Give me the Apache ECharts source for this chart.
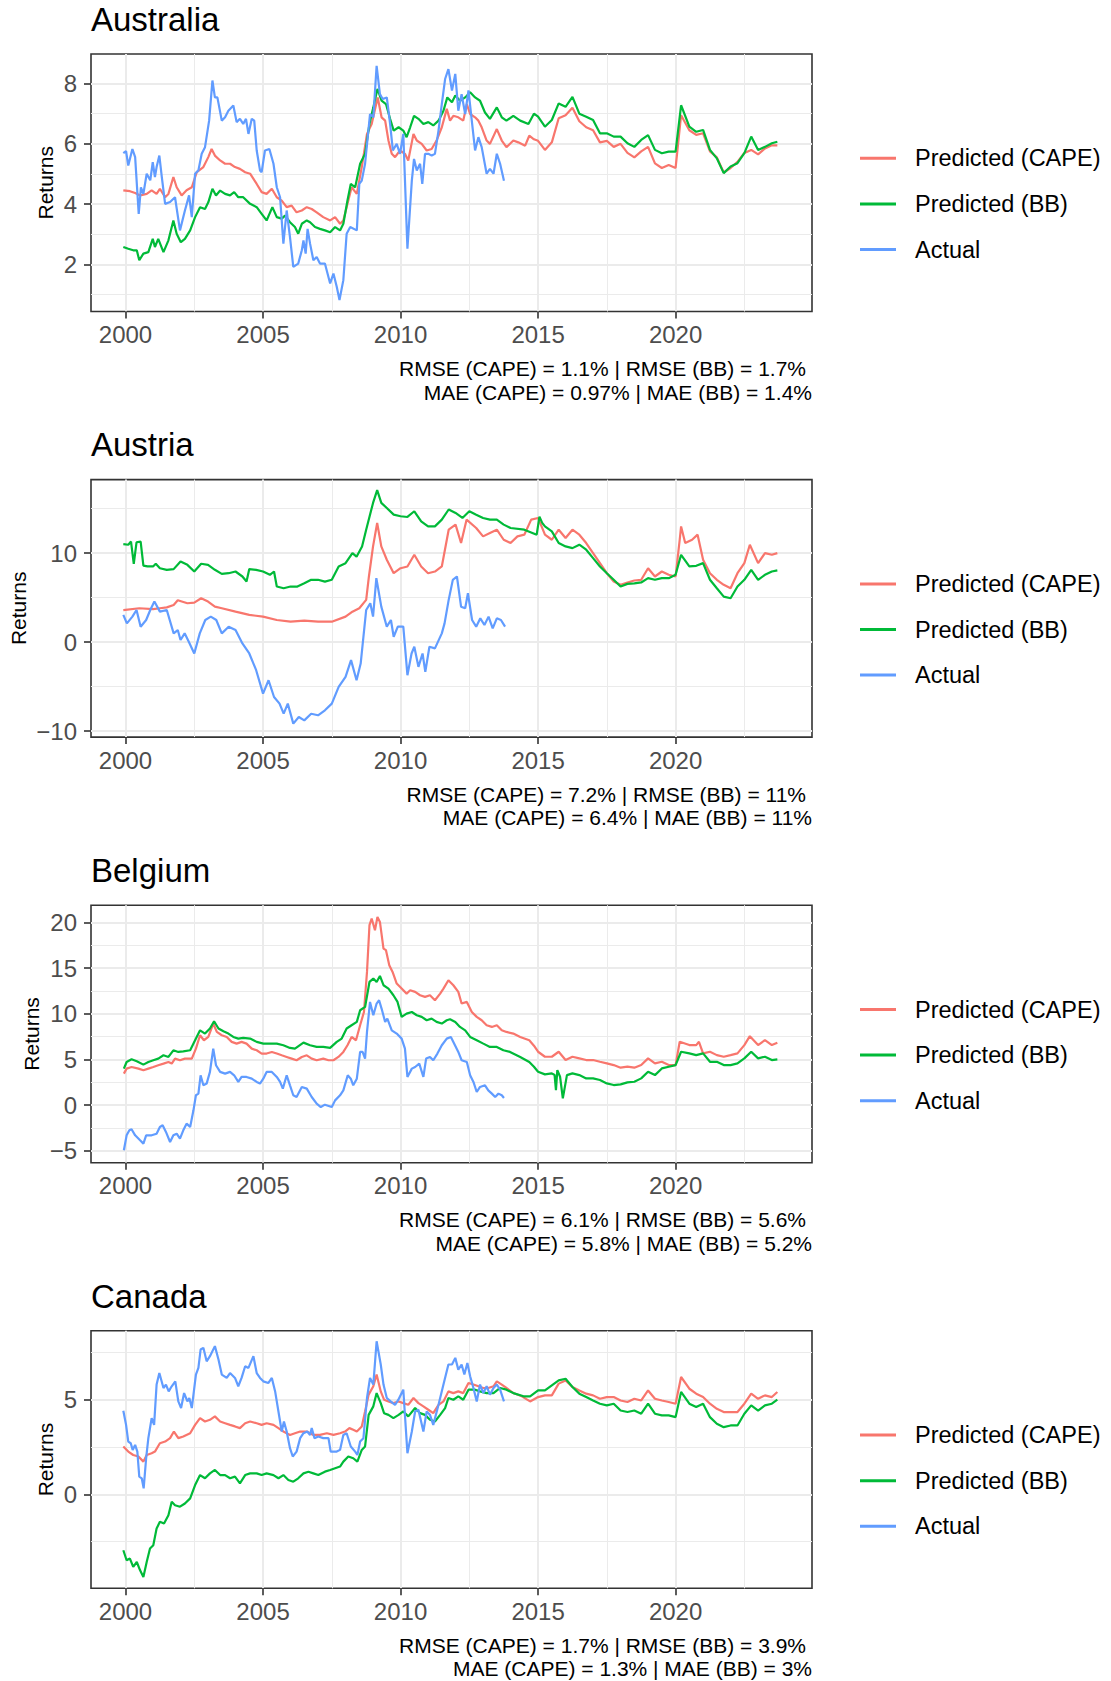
<!DOCTYPE html>
<html><head><meta charset="utf-8">
<script src="https://cdn.jsdelivr.net/npm/echarts@6/dist/echarts.min.js"></script>
<style>html,body{margin:0;padding:0;background:#fff}#c{width:1111px;height:1681px}</style>
</head><body><div id="c"></div>
<script>
// ---------- tick labels / categories ----------
const xTickYears = [2000, 2005, 2010, 2015, 2020];
const xMinorYears = [2002.5, 2007.5, 2012.5, 2017.5, 2022.5];
const seriesNames = ['Predicted (CAPE)', 'Predicted (BB)', 'Actual'];
const countryNames = ['Australia', 'Austria', 'Belgium', 'Canada'];
const ausYTicks = [2, 4, 6, 8], ausYMinor = [1, 3, 5, 7];
const autYTicks = [-10, 0, 10], autYMinor = [-5, 5, 15];
const belYTicks = [-5, 0, 5, 10, 15, 20], belYMinor = [-2.5, 2.5, 7.5, 12.5, 17.5];
const canYTicks = [0, 5], canYMinor = [-2.5, 2.5, 7.5];
const captionRmse = ['RMSE (CAPE) = 1.1% | RMSE (BB) = 1.7%', 'RMSE (CAPE) = 7.2% | RMSE (BB) = 11%', 'RMSE (CAPE) = 6.1% | RMSE (BB) = 5.6%', 'RMSE (CAPE) = 1.7% | RMSE (BB) = 3.9%'];
const captionMae = ['MAE (CAPE) = 0.97% | MAE (BB) = 1.4%', 'MAE (CAPE) = 6.4% | MAE (BB) = 11%', 'MAE (CAPE) = 5.8% | MAE (BB) = 5.2%', 'MAE (CAPE) = 1.3% | MAE (BB) = 3%'];

// ---------- Australia ----------
const ausCape = [[1999.92,4.46],[2000.16,4.43],[2000.35,4.37],[2000.53,4.29],[2000.77,4.34],[2000.95,4.46],[2001.13,4.34],[2001.25,4.51],[2001.44,4.23],[2001.56,4.34],[2001.74,4.9],[2001.86,4.56],[2002.04,4.29],[2002.22,4.46],[2002.41,4.56],[2002.59,5.06],[2002.83,5.23],[2003.01,5.56],[2003.13,5.83],[2003.25,5.61],[2003.44,5.45],[2003.62,5.34],[2003.8,5.34],[2003.98,5.23],[2004.16,5.17],[2004.35,5.06],[2004.53,5.01],[2004.77,4.67],[2004.95,4.4],[2005.13,4.34],[2005.32,4.51],[2005.5,4.23],[2005.68,4.12],[2005.86,3.9],[2006.04,3.95],[2006.22,3.73],[2006.41,3.79],[2006.59,3.9],[2006.77,3.84],[2006.95,3.73],[2007.19,3.57],[2007.44,3.46],[2007.62,3.57],[2007.8,3.35],[2007.92,3.46],[2008.04,3.9],[2008.22,4.56],[2008.41,4.34],[2008.59,5.23],[2008.78,6.33],[2008.95,6.66],[2009.17,7.54],[2009.31,6.88],[2009.44,6.77],[2009.56,6.11],[2009.68,5.67],[2009.8,5.56],[2009.98,5.78],[2010.16,5.67],[2010.28,5.45],[2010.47,6.33],[2010.59,6.11],[2010.77,6.0],[2010.95,5.78],[2011.13,5.83],[2011.31,6.11],[2011.5,6.55],[2011.68,7.16],[2011.8,6.77],[2011.92,6.93],[2012.1,6.88],[2012.28,6.77],[2012.41,7.32],[2012.53,6.99],[2012.71,6.88],[2012.83,6.77],[2012.95,6.55],[2013.13,6.11],[2013.25,6.0],[2013.5,6.49],[2013.68,6.11],[2013.85,5.89],[2014.1,6.11],[2014.28,6.05],[2014.53,5.94],[2014.68,6.27],[2014.85,6.15],[2015,6.1],[2015.25,5.8],[2015.5,6.05],[2015.75,6.85],[2016,6.95],[2016.25,7.2],[2016.5,6.75],[2016.75,6.55],[2017,6.45],[2017.25,6.05],[2017.5,6.1],[2017.75,5.9],[2018,6.0],[2018.25,5.7],[2018.5,5.55],[2018.75,5.75],[2019,5.9],[2019.25,5.35],[2019.5,5.2],[2019.75,5.3],[2020,5.2],[2020.2,6.95],[2020.5,6.45],[2020.75,6.3],[2021,6.35],[2021.25,5.75],[2021.5,5.55],[2021.75,5.05],[2022,5.2],[2022.25,5.4],[2022.5,5.7],[2022.75,5.8],[2023,5.65],[2023.25,5.85],[2023.5,5.95],[2023.7,5.95]];
const ausBB = [[1999.92,2.58],[2000.1,2.52],[2000.28,2.47],[2000.41,2.47],[2000.5,2.14],[2000.65,2.36],[2000.83,2.41],[2000.99,2.85],[2001.07,2.58],[2001.19,2.85],[2001.38,2.41],[2001.56,2.8],[2001.74,3.46],[2001.86,3.02],[2002.01,2.74],[2002.16,2.85],[2002.35,3.13],[2002.53,3.57],[2002.71,3.9],[2002.89,3.84],[2003.01,4.06],[2003.16,4.51],[2003.29,4.29],[2003.44,4.45],[2003.62,4.34],[2003.8,4.29],[2003.95,4.4],[2004.1,4.23],[2004.28,4.23],[2004.53,4.01],[2004.77,3.9],[2004.95,3.68],[2005.13,3.46],[2005.34,3.9],[2005.5,3.57],[2005.68,3.52],[2005.8,3.62],[2005.98,3.4],[2006.16,3.24],[2006.28,3.02],[2006.41,3.35],[2006.59,3.46],[2006.71,3.4],[2006.89,3.24],[2007.07,3.18],[2007.25,3.13],[2007.44,3.07],[2007.62,3.24],[2007.8,3.13],[2007.92,3.35],[2008.07,4.12],[2008.19,4.67],[2008.35,4.56],[2008.53,5.34],[2008.71,5.67],[2008.87,6.66],[2009.01,7.21],[2009.16,7.82],[2009.31,7.43],[2009.47,7.32],[2009.62,6.83],[2009.75,6.44],[2009.93,6.55],[2010.1,6.44],[2010.22,6.22],[2010.35,6.55],[2010.49,6.93],[2010.65,6.83],[2010.83,6.66],[2011.01,6.72],[2011.19,6.61],[2011.38,6.77],[2011.56,7.1],[2011.7,7.54],[2011.87,7.38],[2011.99,7.6],[2012.16,7.43],[2012.35,7.54],[2012.53,7.71],[2012.71,7.54],[2012.89,7.43],[2013.07,7.04],[2013.25,6.83],[2013.5,7.21],[2013.68,6.88],[2013.85,6.77],[2014.1,6.93],[2014.35,6.77],[2014.65,6.66],[2014.85,7.0],[2015,6.9],[2015.25,6.57],[2015.5,6.79],[2015.75,7.34],[2016,7.23],[2016.25,7.56],[2016.5,7.0],[2016.75,6.9],[2017,6.79],[2017.25,6.35],[2017.5,6.35],[2017.75,6.24],[2018,6.24],[2018.25,6.02],[2018.5,5.9],[2018.75,6.13],[2019,6.29],[2019.25,5.8],[2019.5,5.69],[2019.75,5.74],[2020,5.74],[2020.2,7.28],[2020.5,6.57],[2020.75,6.4],[2021,6.46],[2021.25,5.8],[2021.5,5.52],[2021.75,5.03],[2022,5.25],[2022.25,5.36],[2022.5,5.69],[2022.75,6.24],[2023,5.8],[2023.25,5.9],[2023.5,6.02],[2023.7,6.07]];
const ausActual = [[1999.92,5.69],[2000.02,5.76],[2000.1,5.28],[2000.25,5.83],[2000.35,5.56],[2000.48,3.68],[2000.56,4.56],[2000.65,4.34],[2000.77,5.01],[2000.9,4.79],[2000.99,5.39],[2001.07,4.9],[2001.13,5.23],[2001.23,5.61],[2001.32,4.9],[2001.44,4.01],[2001.62,4.07],[2001.8,4.23],[2001.98,3.13],[2002.16,3.79],[2002.31,4.29],[2002.41,3.57],[2002.53,5.01],[2002.65,5.12],[2002.77,5.67],[2002.89,5.89],[2003.04,6.77],[2003.16,8.1],[2003.25,7.54],[2003.34,7.54],[2003.5,6.77],[2003.62,6.88],[2003.74,7.1],[2003.92,7.27],[2004.04,6.72],[2004.16,6.83],[2004.28,6.66],[2004.38,6.83],[2004.47,6.33],[2004.59,6.83],[2004.68,6.77],[2004.77,5.78],[2004.89,5.12],[2004.95,5.06],[2005.07,5.78],[2005.23,5.83],[2005.38,5.34],[2005.5,4.56],[2005.62,4.23],[2005.74,2.69],[2005.86,3.79],[2005.98,2.91],[2006.1,1.92],[2006.28,2.03],[2006.41,2.47],[2006.47,2.8],[2006.55,2.36],[2006.62,3.18],[2006.71,2.69],[2006.83,2.14],[2006.95,2.25],[2007.07,2.03],[2007.25,2.03],[2007.44,1.37],[2007.56,1.7],[2007.68,1.26],[2007.78,0.82],[2007.92,1.48],[2008.04,3.02],[2008.17,3.24],[2008.41,3.13],[2008.5,4.67],[2008.59,4.78],[2008.71,5.34],[2008.89,6.99],[2009.01,6.88],[2009.13,8.59],[2009.25,7.65],[2009.35,7.49],[2009.5,7.54],[2009.62,6.66],[2009.72,5.78],[2009.86,6.0],[2009.98,5.67],[2010.1,6.33],[2010.25,2.52],[2010.41,4.78],[2010.49,5.5],[2010.59,5.12],[2010.71,5.34],[2010.79,4.67],[2010.89,5.67],[2011.01,5.67],[2011.13,5.61],[2011.25,5.67],[2011.38,6.44],[2011.5,7.32],[2011.62,8.15],[2011.74,8.48],[2011.87,7.77],[2011.99,8.32],[2012.1,7.1],[2012.22,7.65],[2012.35,6.99],[2012.47,7.77],[2012.59,6.77],[2012.71,5.78],[2012.83,6.22],[2012.95,5.89],[2013.13,5.01],[2013.25,5.17],[2013.38,5.01],[2013.5,5.67],[2013.62,5.34],[2013.76,4.78]];

// ---------- Austria ----------
const autCape = [[1999.92,3.6],[2000.5,3.8],[2001,3.7],[2001.25,3.8],[2001.5,3.9],[2001.75,4.17],[2001.9,4.7],[2002.25,4.36],[2002.5,4.44],[2002.75,4.92],[2003,4.55],[2003.25,3.98],[2003.5,3.8],[2004,3.42],[2004.5,3.05],[2005,2.86],[2005.5,2.48],[2006,2.29],[2006.5,2.4],[2007,2.29],[2007.5,2.29],[2008,2.86],[2008.25,3.42],[2008.5,3.8],[2008.75,4.74],[2008.85,7.37],[2009,10.75],[2009.15,13.38],[2009.3,10.75],[2009.5,9.25],[2009.75,7.74],[2010,8.3],[2010.25,8.5],[2010.5,9.81],[2010.75,8.5],[2011,7.74],[2011.25,7.93],[2011.5,8.5],[2011.75,12.63],[2012,13.2],[2012.2,11.13],[2012.4,13.76],[2012.75,12.82],[2013,11.88],[2013.25,12.26],[2013.5,12.63],[2013.75,11.5],[2014,11.13],[2014.25,11.88],[2014.5,12.07],[2014.75,13.76],[2015,13.95],[2015.25,12.07],[2015.5,11.5],[2015.75,12.63],[2016,11.69],[2016.25,12.63],[2016.5,12.07],[2016.75,11.13],[2017,10.0],[2017.25,8.87],[2017.5,7.74],[2017.75,6.8],[2018,6.43],[2018.25,6.7],[2018.5,6.92],[2018.75,7.0],[2019,8.3],[2019.25,7.37],[2019.5,7.93],[2019.75,7.56],[2020,7.37],[2020.15,11.5],[2020.2,13.0],[2020.35,11.13],[2020.6,11.5],[2020.8,12.07],[2021,9.25],[2021.25,7.74],[2021.5,7.0],[2021.75,6.43],[2022,6.05],[2022.25,7.74],[2022.5,8.87],[2022.7,10.94],[2023,8.87],[2023.25,10.0],[2023.5,9.81],[2023.7,10.0]];
const autBB = [[1999.92,11.0],[2000.1,10.94],[2000.2,11.3],[2000.3,8.8],[2000.4,11.2],[2000.55,11.3],[2000.65,8.6],[2000.8,8.5],[2001,8.5],[2001.1,8.8],[2001.25,8.3],[2001.5,8.12],[2001.75,8.2],[2002,9.06],[2002.25,8.68],[2002.5,7.93],[2002.75,8.8],[2003,8.68],[2003.25,8.12],[2003.5,7.67],[2003.75,7.74],[2004,7.93],[2004.25,7.37],[2004.4,6.8],[2004.5,8.2],[2004.75,8.12],[2005,7.93],[2005.25,7.56],[2005.4,7.93],[2005.5,6.24],[2005.75,6.05],[2006,6.24],[2006.25,6.24],[2006.5,6.6],[2006.75,7.0],[2007,7.0],[2007.25,6.8],[2007.5,7.0],[2007.75,8.5],[2008,8.87],[2008.25,10.0],[2008.4,9.6],[2008.6,10.75],[2008.75,12.63],[2009,15.64],[2009.15,17.07],[2009.3,15.64],[2009.5,15.07],[2009.75,14.32],[2010,14.14],[2010.25,14.06],[2010.5,14.7],[2010.75,13.57],[2011,13.0],[2011.25,13.0],[2011.5,13.76],[2011.75,14.9],[2012,14.51],[2012.25,13.95],[2012.5,14.7],[2012.75,14.32],[2013,13.95],[2013.25,13.76],[2013.5,13.76],[2013.75,13.2],[2014,12.82],[2014.5,12.63],[2014.95,12.07],[2015.05,14.1],[2015.15,13.4],[2015.25,13.0],[2015.5,12.44],[2015.75,11.13],[2016,10.75],[2016.25,10.56],[2016.5,10.94],[2016.75,10.38],[2017,9.44],[2017.25,8.5],[2017.5,7.74],[2017.75,7.0],[2018,6.24],[2018.25,6.54],[2018.5,6.6],[2018.75,6.7],[2019,7.18],[2019.25,7.0],[2019.5,7.18],[2019.75,7.18],[2020,7.56],[2020.2,9.81],[2020.5,8.5],[2020.75,8.57],[2021,8.87],[2021.25,7.0],[2021.5,6.05],[2021.75,5.11],[2022,4.92],[2022.25,6.24],[2022.5,7.0],[2022.75,8.12],[2023,7.0],[2023.25,7.56],[2023.5,7.93],[2023.7,8.05]];
const autActual = [[1999.92,3.05],[2000.05,2.1],[2000.25,2.86],[2000.4,3.6],[2000.55,1.73],[2000.75,2.48],[2000.9,3.6],[2001.05,4.55],[2001.25,3.42],[2001.5,3.6],[2001.75,0.98],[2001.9,1.35],[2002,0.23],[2002.15,0.98],[2002.3,0.04],[2002.5,-1.28],[2002.7,0.98],[2002.9,2.48],[2003.1,2.86],[2003.3,2.48],[2003.5,0.98],[2003.75,1.73],[2004,1.35],[2004.25,-0.15],[2004.5,-1.28],[2004.75,-3.16],[2005,-5.79],[2005.2,-4.29],[2005.4,-6.17],[2005.6,-6.92],[2005.75,-8.05],[2005.9,-6.92],[2006.1,-9.17],[2006.3,-8.42],[2006.5,-8.8],[2006.75,-8.05],[2007,-8.23],[2007.25,-7.67],[2007.5,-6.92],[2007.75,-5.04],[2008,-3.91],[2008.2,-2.03],[2008.4,-4.29],[2008.55,-2.41],[2008.75,3.6],[2008.9,4.36],[2009,2.86],[2009.12,7.18],[2009.3,3.98],[2009.5,1.73],[2009.65,2.48],[2009.75,0.6],[2009.9,1.73],[2010.1,1.73],[2010.25,-3.72],[2010.4,-1.28],[2010.5,-0.53],[2010.65,-2.78],[2010.8,-1.28],[2010.9,-3.35],[2011.05,-0.53],[2011.25,-0.71],[2011.5,0.98],[2011.6,2.1],[2011.75,4.74],[2011.9,6.99],[2012.05,7.37],[2012.2,3.98],[2012.35,3.8],[2012.45,5.49],[2012.6,2.48],[2012.75,1.73],[2012.9,2.67],[2013.05,1.92],[2013.2,2.86],[2013.35,1.54],[2013.5,2.67],[2013.65,2.48],[2013.8,1.73]];

// ---------- Belgium ----------
const belCape = [[1999.94,3.44],[2000.04,3.99],[2000.22,4.17],[2000.47,3.99],[2000.65,3.81],[2000.83,3.99],[2001.01,4.17],[2001.19,4.36],[2001.38,4.54],[2001.56,4.72],[2001.68,4.54],[2001.8,5.09],[2001.98,4.91],[2002.16,5.09],[2002.41,5.09],[2002.56,6.18],[2002.71,7.65],[2002.85,7.1],[2003.01,7.46],[2003.19,8.93],[2003.32,8.01],[2003.5,7.65],[2003.68,7.46],[2003.86,6.92],[2004.04,6.73],[2004.22,6.92],[2004.4,6.73],[2004.59,6.18],[2004.77,6.0],[2004.95,5.64],[2005.13,5.64],[2005.32,5.82],[2005.5,5.64],[2005.68,5.45],[2005.86,5.27],[2006.04,5.09],[2006.22,4.91],[2006.41,5.27],[2006.59,5.45],[2006.77,5.09],[2006.95,4.91],[2007.19,5.09],[2007.38,4.91],[2007.56,4.91],[2007.74,5.27],[2007.92,5.82],[2008.07,6.55],[2008.22,7.46],[2008.38,7.1],[2008.53,8.74],[2008.67,10.2],[2008.78,14.59],[2008.87,19.71],[2008.95,20.44],[2009.07,19.16],[2009.16,20.62],[2009.25,20.07],[2009.38,17.15],[2009.47,16.97],[2009.59,15.32],[2009.71,14.59],[2009.86,13.31],[2010.04,12.76],[2010.22,12.21],[2010.35,12.58],[2010.53,12.4],[2010.71,12.03],[2010.89,11.85],[2011.07,12.03],[2011.25,11.48],[2011.44,12.21],[2011.56,12.76],[2011.74,13.68],[2011.92,13.13],[2012.1,12.4],[2012.22,11.12],[2012.41,11.3],[2012.59,10.2],[2012.77,9.66],[2012.95,9.29],[2013.13,8.74],[2013.32,8.56],[2013.5,8.74],[2013.68,8.19],[2013.85,8.01],[2014.1,7.83],[2014.35,7.46],[2014.68,7.1],[2014.85,6.5],[2015,5.84],[2015.25,5.29],[2015.5,5.29],[2015.75,5.84],[2016,4.93],[2016.25,5.29],[2016.5,5.11],[2016.75,4.93],[2017,4.93],[2017.25,4.74],[2017.5,4.56],[2017.75,4.38],[2018,4.09],[2018.25,4.2],[2018.5,4.09],[2018.75,4.38],[2019,5.11],[2019.25,4.56],[2019.5,4.74],[2019.75,4.38],[2020,4.38],[2020.15,6.93],[2020.5,6.57],[2020.75,6.57],[2020.85,6.93],[2021,5.66],[2021.25,5.84],[2021.5,5.47],[2021.75,5.29],[2022,5.47],[2022.25,5.66],[2022.5,6.57],[2022.7,7.55],[2023,6.57],[2023.25,7.12],[2023.5,6.57],[2023.7,6.82]];
const belBB = [[1999.94,3.99],[2000.04,4.72],[2000.22,5.01],[2000.41,4.8],[2000.65,4.43],[2000.83,4.72],[2001.01,4.91],[2001.19,5.09],[2001.38,5.45],[2001.56,5.27],[2001.74,6.0],[2001.92,5.82],[2002.1,5.89],[2002.35,6.0],[2002.53,7.1],[2002.71,8.19],[2002.89,7.83],[2003.07,8.39],[2003.22,9.18],[2003.38,8.39],[2003.56,8.08],[2003.74,7.83],[2003.92,7.46],[2004.1,7.28],[2004.28,7.35],[2004.53,7.28],[2004.77,6.92],[2005.01,6.73],[2005.25,6.73],[2005.5,6.73],[2005.74,6.55],[2005.98,6.26],[2006.16,6.18],[2006.47,6.84],[2006.71,6.55],[2006.95,6.37],[2007.19,6.37],[2007.44,6.26],[2007.68,6.92],[2007.86,7.28],[2008.04,8.39],[2008.22,8.74],[2008.41,9.11],[2008.53,10.39],[2008.71,10.75],[2008.87,13.49],[2009.01,13.86],[2009.13,13.49],[2009.25,14.15],[2009.38,13.13],[2009.56,12.76],[2009.74,12.03],[2009.89,11.3],[2010.04,9.66],[2010.22,10.02],[2010.41,10.2],[2010.59,9.84],[2010.77,9.66],[2010.95,9.29],[2011.13,9.47],[2011.31,9.11],[2011.5,8.93],[2011.68,9.29],[2011.8,9.4],[2011.99,9.11],[2012.16,8.56],[2012.35,8.19],[2012.53,7.46],[2012.77,7.1],[2013.01,6.73],[2013.25,6.37],[2013.5,6.37],[2013.74,6.0],[2013.98,5.82],[2014.35,5.27],[2014.68,4.72],[2014.85,4.2],[2015,3.65],[2015.25,3.36],[2015.5,3.47],[2015.6,3.3],[2015.65,1.64],[2015.7,3.83],[2015.8,3.1],[2015.9,0.73],[2016.05,3.28],[2016.25,3.47],[2016.5,3.28],[2016.75,2.92],[2017,2.92],[2017.25,2.74],[2017.5,2.37],[2017.75,2.19],[2018,2.26],[2018.25,2.48],[2018.5,2.55],[2018.75,2.92],[2019,3.65],[2019.25,3.28],[2019.5,4.01],[2019.75,4.2],[2020,4.38],[2020.2,5.84],[2020.5,5.66],[2020.75,5.47],[2021,5.66],[2021.25,4.74],[2021.5,4.74],[2021.75,4.38],[2022,4.38],[2022.25,4.56],[2022.5,5.11],[2022.75,5.84],[2023,5.11],[2023.25,5.29],[2023.5,4.93],[2023.7,5.0]];
const belActual = [[1999.94,-4.96],[2000.04,-3.32],[2000.14,-2.77],[2000.22,-2.66],[2000.35,-3.32],[2000.53,-3.87],[2000.65,-4.23],[2000.75,-3.32],[2000.95,-3.32],[2001.13,-3.14],[2001.25,-2.4],[2001.35,-2.22],[2001.47,-2.95],[2001.62,-4.05],[2001.74,-3.32],[2001.86,-3.14],[2001.98,-3.68],[2002.1,-2.77],[2002.22,-2.04],[2002.35,-2.4],[2002.47,-0.58],[2002.56,1.07],[2002.65,1.25],[2002.73,3.26],[2002.83,2.16],[2002.95,2.35],[2003.07,3.63],[2003.19,6.18],[2003.29,4.36],[2003.44,3.63],[2003.62,3.44],[2003.8,3.63],[2003.95,3.26],[2004.1,2.53],[2004.22,3.08],[2004.4,3.08],[2004.59,2.89],[2004.77,2.53],[2004.89,2.35],[2005.01,2.89],[2005.13,3.63],[2005.32,3.63],[2005.5,3.08],[2005.62,2.53],[2005.72,1.8],[2005.86,3.26],[2005.98,2.16],[2006.1,1.07],[2006.22,0.88],[2006.41,1.98],[2006.59,1.8],[2006.77,0.88],[2006.95,0.15],[2007.1,-0.22],[2007.25,0.04],[2007.5,-0.22],[2007.62,0.51],[2007.8,1.07],[2007.92,1.61],[2008.08,3.26],[2008.19,2.89],[2008.28,2.16],[2008.41,2.89],[2008.53,5.82],[2008.62,5.82],[2008.71,5.09],[2008.78,8.01],[2008.89,11.3],[2009.01,9.84],[2009.13,11.12],[2009.22,11.48],[2009.31,10.57],[2009.44,9.11],[2009.52,9.47],[2009.68,8.19],[2009.86,7.83],[2010.04,7.28],[2010.16,6.18],[2010.25,3.08],[2010.41,3.99],[2010.53,4.17],[2010.68,4.54],[2010.83,3.08],[2010.93,5.09],[2011.07,5.27],[2011.19,4.91],[2011.34,5.64],[2011.5,6.55],[2011.68,7.28],[2011.83,7.46],[2011.92,6.92],[2012.1,5.82],[2012.22,4.91],[2012.41,4.72],[2012.53,3.26],[2012.65,2.53],[2012.77,1.43],[2012.89,1.98],[2013.07,2.16],[2013.19,1.61],[2013.32,1.25],[2013.44,0.88],[2013.56,1.25],[2013.68,1.07],[2013.76,0.77]];

// ---------- Canada ----------
const canCape = [[1999.92,2.53],[2000.1,2.26],[2000.28,2.08],[2000.47,2.0],[2000.65,1.73],[2000.77,2.08],[2000.95,2.17],[2001.07,2.26],[2001.25,2.7],[2001.44,2.79],[2001.62,2.97],[2001.76,3.32],[2001.92,2.97],[2002.1,3.06],[2002.35,3.23],[2002.53,3.67],[2002.71,4.03],[2002.89,3.85],[2003.07,3.94],[2003.25,4.12],[2003.44,3.85],[2003.62,3.76],[2003.8,3.67],[2003.98,3.59],[2004.16,3.5],[2004.35,3.76],[2004.53,3.85],[2004.77,3.76],[2004.95,3.67],[2005.13,3.76],[2005.38,3.67],[2005.56,3.5],[2005.74,3.32],[2005.98,3.14],[2006.16,3.23],[2006.35,3.32],[2006.59,3.32],[2006.83,3.14],[2007.07,3.14],[2007.32,3.23],[2007.56,3.14],[2007.8,3.23],[2007.98,3.32],[2008.14,3.5],[2008.28,3.41],[2008.41,3.32],[2008.59,3.59],[2008.71,4.38],[2008.84,5.27],[2009.01,5.71],[2009.13,6.33],[2009.28,5.44],[2009.4,5.0],[2009.56,4.91],[2009.74,4.82],[2009.93,4.91],[2010.1,4.82],[2010.28,4.73],[2010.47,5.09],[2010.65,4.82],[2010.83,4.65],[2011.01,4.47],[2011.19,4.29],[2011.38,4.73],[2011.56,4.91],[2011.74,5.44],[2011.92,5.35],[2012.1,5.44],[2012.28,5.35],[2012.47,5.88],[2012.65,5.8],[2012.83,5.71],[2013.01,5.62],[2013.19,5.62],[2013.38,5.71],[2013.5,5.97],[2013.68,5.8],[2013.85,5.62],[2014.1,5.35],[2014.41,5.18],[2014.71,4.91],[2015,5.14],[2015.25,5.23],[2015.5,5.23],[2015.75,5.85],[2016,6.02],[2016.25,5.67],[2016.5,5.49],[2016.75,5.32],[2017,5.23],[2017.25,5.05],[2017.5,5.14],[2017.75,5.14],[2018,4.96],[2018.25,4.88],[2018.5,5.05],[2018.75,4.96],[2019,5.49],[2019.25,5.05],[2019.5,4.96],[2019.75,4.88],[2020,4.79],[2020.2,6.2],[2020.5,5.58],[2020.75,5.32],[2021,5.14],[2021.25,4.79],[2021.5,4.52],[2021.75,4.35],[2022,4.35],[2022.25,4.35],[2022.5,4.79],[2022.75,5.32],[2023,5.05],[2023.25,5.23],[2023.5,5.14],[2023.7,5.41]];
const canBB = [[1999.92,-2.95],[2000.04,-3.48],[2000.16,-3.39],[2000.28,-3.83],[2000.41,-3.57],[2000.53,-4.01],[2000.65,-4.36],[2000.77,-3.57],[2000.89,-2.86],[2001.01,-2.69],[2001.13,-1.8],[2001.25,-1.45],[2001.4,-1.54],[2001.56,-1.1],[2001.68,-0.39],[2001.8,-0.57],[2001.98,-0.65],[2002.16,-0.48],[2002.35,-0.21],[2002.53,0.49],[2002.71,1.02],[2002.89,0.85],[2003.07,1.11],[2003.25,1.29],[2003.44,1.02],[2003.62,1.02],[2003.8,0.85],[2003.98,0.94],[2004.16,0.58],[2004.35,1.02],[2004.53,1.11],[2004.77,1.11],[2004.95,1.02],[2005.13,1.11],[2005.38,1.02],[2005.56,0.85],[2005.74,1.02],[2005.92,0.76],[2006.1,0.67],[2006.28,0.85],[2006.47,1.11],[2006.65,1.2],[2006.83,1.11],[2007.01,1.02],[2007.25,1.2],[2007.44,1.29],[2007.62,1.38],[2007.8,1.47],[2007.92,1.73],[2008.1,2.0],[2008.28,1.91],[2008.43,1.73],[2008.59,2.35],[2008.71,2.53],[2008.84,4.2],[2009.01,4.65],[2009.13,5.35],[2009.28,4.82],[2009.4,4.29],[2009.56,4.2],[2009.74,4.03],[2009.93,4.2],[2010.1,4.38],[2010.28,4.12],[2010.53,4.56],[2010.71,4.29],[2010.89,4.2],[2011.07,3.94],[2011.25,3.85],[2011.44,4.2],[2011.62,4.56],[2011.74,5.09],[2011.92,5.0],[2012.1,5.18],[2012.28,5.0],[2012.47,5.53],[2012.71,5.53],[2012.89,5.44],[2013.13,5.35],[2013.38,5.35],[2013.62,5.62],[2013.85,5.53],[2014.1,5.35],[2014.47,5.18],[2014.71,5.18],[2015,5.49],[2015.25,5.49],[2015.5,5.76],[2015.75,6.02],[2016,6.11],[2016.25,5.67],[2016.5,5.32],[2016.75,5.14],[2017,4.96],[2017.25,4.79],[2017.5,4.7],[2017.75,4.79],[2018,4.43],[2018.25,4.35],[2018.5,4.43],[2018.75,4.26],[2019,4.79],[2019.25,4.26],[2019.5,4.17],[2019.75,4.17],[2020,4.08],[2020.2,5.41],[2020.5,4.79],[2020.75,4.61],[2021,4.79],[2021.25,4.08],[2021.5,3.73],[2021.75,3.55],[2022,3.64],[2022.25,3.64],[2022.5,4.26],[2022.75,4.7],[2023,4.43],[2023.25,4.7],[2023.5,4.79],[2023.7,5.0]];
const canActual = [[1999.92,4.42],[2000.02,3.67],[2000.1,2.79],[2000.19,2.7],[2000.26,2.35],[2000.35,2.61],[2000.43,2.26],[2000.5,0.94],[2000.59,0.85],[2000.66,0.32],[2000.75,1.91],[2000.83,2.97],[2000.95,4.03],[2001.04,3.67],[2001.13,5.8],[2001.23,6.41],[2001.38,5.62],[2001.47,5.8],[2001.57,5.44],[2001.68,5.71],[2001.81,5.97],[2001.92,4.91],[2002.02,4.56],[2002.13,5.35],[2002.25,4.91],[2002.32,5.09],[2002.41,4.56],[2002.56,6.33],[2002.65,6.68],[2002.73,7.65],[2002.83,7.74],[2002.95,7.03],[2003.07,7.3],[2003.25,7.83],[2003.38,7.12],[2003.5,6.33],[2003.68,6.15],[2003.8,6.41],[2003.98,6.15],[2004.1,5.71],[2004.22,6.15],[2004.35,6.77],[2004.47,6.68],[2004.65,7.3],[2004.77,6.41],[2004.89,6.15],[2005.01,5.97],[2005.19,5.88],[2005.32,6.15],[2005.44,5.44],[2005.56,4.38],[2005.68,3.32],[2005.76,3.85],[2005.86,3.32],[2005.98,2.44],[2006.08,2.0],[2006.22,2.26],[2006.35,2.97],[2006.47,3.23],[2006.61,3.32],[2006.71,3.14],[2006.77,3.5],[2006.87,2.97],[2007.01,3.06],[2007.19,2.97],[2007.38,2.97],[2007.46,2.26],[2007.68,2.26],[2007.8,2.35],[2007.92,3.14],[2008.04,3.23],[2008.19,2.53],[2008.35,2.26],[2008.43,2.08],[2008.53,2.79],[2008.65,2.97],[2008.78,5.09],[2008.89,6.15],[2009.01,5.8],[2009.13,8.09],[2009.28,6.86],[2009.38,5.8],[2009.5,5.09],[2009.64,4.91],[2009.8,4.73],[2009.92,5.0],[2010.1,5.53],[2010.25,2.17],[2010.41,3.32],[2010.53,4.38],[2010.65,4.47],[2010.83,3.32],[2010.95,4.38],[2011.07,4.2],[2011.19,3.67],[2011.38,4.73],[2011.56,5.8],[2011.74,6.86],[2011.87,6.86],[2011.99,7.21],[2012.1,6.59],[2012.22,6.86],[2012.32,6.33],[2012.43,6.94],[2012.53,6.24],[2012.65,5.62],[2012.77,4.91],[2012.89,5.8],[2013.01,5.35],[2013.13,5.71],[2013.25,5.27],[2013.38,5.62],[2013.5,5.8],[2013.62,5.53],[2013.76,4.91]];

// ---------- assembly ----------
const panels = [
  {cape: ausCape, bb: ausBB, act: ausActual, yMin: 0.44, yMax: 8.98, yTicks: ausYTicks, yMinor: ausYMinor, nameX: 45},
  {cape: autCape, bb: autBB, act: autActual, yMin: -10.68, yMax: 18.26, yTicks: autYTicks, yMinor: autYMinor, nameX: 18},
  {cape: belCape, bb: belBB, act: belActual, yMin: -6.32, yMax: 21.9, yTicks: belYTicks, yMinor: belYMinor, nameX: 31},
  {cape: canCape, bb: canBB, act: canActual, yMin: -4.96, yMax: 8.64, yTicks: canYTicks, yMinor: canYMinor, nameX: 45}
];
const colors = ['#F8766D', '#00BA38', '#619CFF'];
const FONT = '"Liberation Sans", Arial, Helvetica, sans-serif';
const STEP = 425.6, TOP0 = 54, PH = 257.5, PL = 91, PW = 721;
const X_MIN = 1998.745, X_MAX = 2024.96;
const fmtNum = v => (v < 0 ? '\u2212' + Math.abs(v) : String(v));

const grid = [], xAxis = [], yAxis = [], series = [], legend = [], gfx = [];
panels.forEach((p, i) => {
  const top = TOP0 + STEP * i;
  grid.push({left: PL, top: top, width: PW, height: PH, show: true, borderColor: '#333333', borderWidth: 1.6, backgroundColor: 'transparent', containLabel: false});
  xAxis.push({type: 'value', gridIndex: i, min: X_MIN, max: X_MAX, position: 'bottom',
    axisLine: {show: false, onZero: false},
    axisTick: {show: true, customValues: xTickYears, length: 7, lineStyle: {color: '#333333', width: 1.6}},
    axisLabel: {show: true, customValues: xTickYears, fontSize: 24, color: '#4D4D4D', margin: 11, fontFamily: FONT, formatter: v => String(v)},
    splitLine: {show: true, lineStyle: {color: '#EBEBEB', width: 2}}});
  xAxis.push({type: 'value', gridIndex: i, min: X_MIN, max: X_MAX, position: 'bottom',
    axisLine: {show: false, onZero: false}, axisTick: {show: false, customValues: xMinorYears}, axisLabel: {show: false, customValues: xMinorYears},
    splitLine: {show: true, lineStyle: {color: '#EBEBEB', width: 1}}});
  yAxis.push({type: 'value', gridIndex: i, min: p.yMin, max: p.yMax, position: 'left',
    axisLine: {show: false, onZero: false},
    axisTick: {show: true, customValues: p.yTicks, length: 7, lineStyle: {color: '#333333', width: 1.6}},
    axisLabel: {show: true, customValues: p.yTicks, fontSize: 24, color: '#4D4D4D', margin: 14, fontFamily: FONT, formatter: fmtNum},
    splitLine: {show: true, lineStyle: {color: '#EBEBEB', width: 2}}});
  yAxis.push({type: 'value', gridIndex: i, min: p.yMin, max: p.yMax, position: 'left',
    axisLine: {show: false, onZero: false}, axisTick: {show: false, customValues: p.yMinor}, axisLabel: {show: false, customValues: p.yMinor},
    splitLine: {show: true, lineStyle: {color: '#EBEBEB', width: 1}}});
  [p.cape, p.bb, p.act].forEach((d, k) => {
    series.push({type: 'line', name: seriesNames[k], xAxisIndex: 2 * i, yAxisIndex: 2 * i,
      data: d, showSymbol: false, symbol: 'none', color: colors[k],
      lineStyle: {color: colors[k], width: 2.2}, itemStyle: {color: colors[k]}, z: 3 + k, silent: true});
  });
  legend.push({orient: 'vertical', left: 860, top: 158.3 - 12 + STEP * i, padding: 0,
    itemWidth: 36, itemHeight: 3, itemGap: 21.6, icon: 'rect', selectedMode: false,
    data: seriesNames.map((n, k) => ({name: n, itemStyle: {color: colors[k]}})),
    textStyle: {fontSize: 23.5, color: '#000000', fontFamily: FONT, lineHeight: 24, padding: [0, 0, 0, 14]}});
  gfx.push({type: 'text', x: 91, y: 30.7 - 11.4 + STEP * i, silent: true,
    style: {text: countryNames[i], fill: '#000000', fontSize: 33, fontFamily: FONT, align: 'left', verticalAlign: 'middle', textAlign: 'left', textVerticalAlign: 'middle'}});
  gfx.push({type: 'text', x: p.nameX, y: top + PH / 2, rotation: Math.PI / 2, silent: true,
    style: {text: 'Returns', fill: '#000000', fontSize: 21, fontFamily: FONT, align: 'center', verticalAlign: 'middle', textAlign: 'center', textVerticalAlign: 'middle'}});
  gfx.push({type: 'text', x: 806, y: 376 - 7.3 + STEP * i, silent: true,
    style: {text: captionRmse[i], fill: '#000000', fontSize: 21, fontFamily: FONT, align: 'right', verticalAlign: 'middle', textAlign: 'right', textVerticalAlign: 'middle'}});
  gfx.push({type: 'text', x: 812, y: 399.3 - 7.3 + STEP * i, silent: true,
    style: {text: captionMae[i], fill: '#000000', fontSize: 21, fontFamily: FONT, align: 'right', verticalAlign: 'middle', textAlign: 'right', textVerticalAlign: 'middle'}});
});

const chart = echarts.init(document.getElementById('c'), null, {renderer: 'svg', width: 1111, height: 1681});
chart.setOption({
  backgroundColor: '#ffffff', animation: false,
  grid, xAxis, yAxis, series, legend,
  graphic: {elements: gfx}
});
</script>
</body></html>
